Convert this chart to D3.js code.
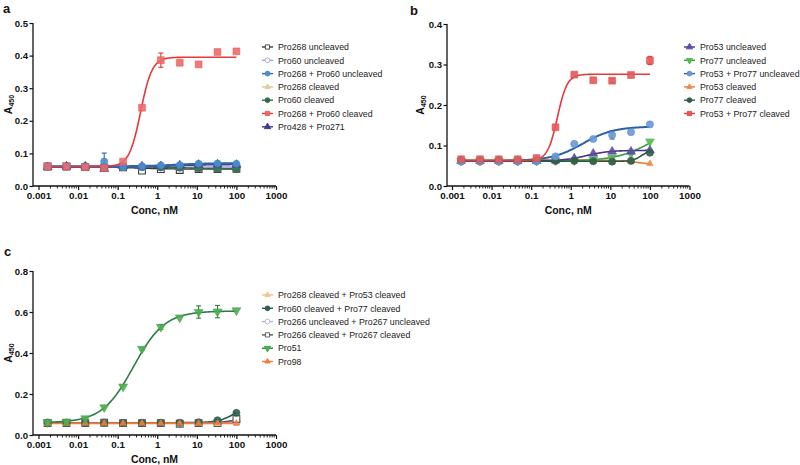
<!DOCTYPE html>
<html><head><meta charset="utf-8">
<script src="https://cdn.jsdelivr.net/npm/d3@7"></script>
<style>body{margin:0;background:#fff}svg{font-family:"Liberation Sans",Arial,sans-serif}</style>
</head><body><svg id="chart" width="800" height="465"></svg>
<script>
// ---------- DATA ----------
const concs = [0.0017, 0.0051, 0.0152, 0.0457, 0.137, 0.412, 1.23, 3.70, 11.1, 33.3, 100];
const xTickValues = [0.001, 0.01, 0.1, 1, 10, 100, 1000];
const xTickLabels = ["0.001", "0.01", "0.1", "1", "10", "100", "1000"];
const yTicksA = [0, 0.1, 0.2, 0.3, 0.4, 0.5];
const yTicksB = [0, 0.1, 0.2, 0.3, 0.4];
const yTicksC = [0, 0.2, 0.4, 0.6, 0.8];

// Panel a
const aNames = ["Pro268 uncleaved", "Pro60 uncleaved", "Pro268 + Pro60 uncleaved", "Pro268 cleaved", "Pro60 cleaved", "Pro268 + Pro60 cleaved", "Pro428 + Pro271"];
const a268u   = [0.060,0.060,0.058,0.056,0.057,0.047,0.052,0.049,0.052,0.052,0.053];
const a60u    = [0.060,0.060,0.060,0.058,0.058,0.058,0.058,0.058,0.058,0.058,0.058];
const a268_60u= [0.060,0.060,0.060,0.075,0.058,0.060,0.063,0.064,0.068,0.069,0.068];
const a268c   = [0.061,0.064,0.060,0.058,0.057,0.056,0.056,0.056,0.055,0.054,0.053];
const a60c    = [0.060,0.060,0.060,0.057,0.058,0.058,0.057,0.056,0.054,0.053,0.052];
const a268_60c= [0.060,0.060,0.058,0.055,0.075,0.240,0.386,0.378,0.373,0.411,0.413];
const a428_271= [0.058,0.060,0.060,0.053,0.060,0.060,0.061,0.063,0.065,0.066,0.065];
const aErr268_60u = [0,0,0,0.026,0,0,0,0,0,0,0];
const aErr268_60c = [0,0,0,0,0,0,0.022,0,0,0,0];
// fit params: bottom, top, EC50, hill
const aFits = [[0.059,0.052,0.3,1],[0.059,0.058,1,1],[0.060,0.070,3,1],[0.060,0.053,3,1],[0.059,0.052,5,1],[0.060,0.395,0.38,3],[0.059,0.066,3,1]];

// Panel b
const bNames = ["Pro53 uncleaved", "Pro77 uncleaved", "Pro53 + Pro77 uncleaved", "Pro53 cleaved", "Pro77 cleaved", "Pro53 + Pro77 cleaved"];
const b53u    = [0.062,0.062,0.062,0.062,0.062,0.063,0.068,0.080,0.085,0.085,0.088];
const b77u    = [0.062,0.062,0.062,0.062,0.062,0.063,0.063,0.065,0.070,0.080,0.110];
const b53_77u = [0.060,0.060,0.060,0.060,0.061,0.073,0.104,0.116,0.126,0.133,0.152];
const b53c    = [0.065,0.065,0.065,0.065,0.063,0.062,0.062,0.061,0.060,0.060,0.055];
const b77c    = [0.062,0.062,0.062,0.062,0.062,0.062,0.062,0.061,0.060,0.062,0.082];
const b53_77c = [0.066,0.066,0.066,0.066,0.069,0.145,0.275,0.261,0.260,0.274,0.310];
const bErr53_77u = [0,0,0,0,0,0,0,0,0.010,0,0];
const bErr53_77c = [0,0,0,0,0,0,0,0,0.005,0,0.010];
const bFits = [[0.062,0.088,2.5,1.5],[0.062,0.150,100,1],[0.062,0.147,2,1.1],[0.064,0.050,60,1.5],[0.061,0.088,60,4],[0.063,0.276,0.46,3.5]];

// Panel c
const cNames = ["Pro268 cleaved + Pro53 cleaved", "Pro60 cleaved + Pro77 cleaved", "Pro266 uncleaved + Pro267 uncleaved", "Pro266 cleaved + Pro267 cleaved", "Pro51", "Pro98"];
const c268c_53c = [0.060,0.060,0.060,0.060,0.060,0.060,0.060,0.060,0.060,0.060,0.060];
const c60c_77c  = [0.060,0.060,0.060,0.060,0.060,0.060,0.060,0.060,0.062,0.072,0.108];
const c266u_267u= [0.060,0.060,0.058,0.060,0.058,0.058,0.058,0.058,0.058,0.062,0.065];
const c266c_267c= [0.058,0.058,0.058,0.060,0.058,0.058,0.058,0.055,0.058,0.058,0.078];
const c51       = [0.062,0.065,0.081,0.135,0.236,0.420,0.527,0.573,0.600,0.602,0.608];
const c98       = [0.057,0.057,0.057,0.057,0.057,0.057,0.057,0.057,0.057,0.057,0.057];
const cErr51 = [0,0,0,0,0,0.006,0.012,0,0.030,0.030,0];
const cFits = [[0.060,0.060,1,1],[0.060,0.160,100,2],[0.059,0.065,60,2],[0.058,0.090,100,2],[0.060,0.605,0.25,1.1],[0.057,0.057,1,1]];

// ---------- DRAW ----------
const svg = d3.select("#chart");
const fit = (p, x) => p[0] + (p[1]-p[0]) / (1 + Math.pow(p[2]/x, p[3]));
const symType = m => m==="square" ? d3.symbolSquare : m==="circle" ? d3.symbolCircle : d3.symbolTriangle;
const symSize = {square:46, circle:40, tri:34, small:18};

function panel(cfg) {
  const g = svg.append("g");
  const x = d3.scaleLog().domain([0.001, 1000]).range(cfg.xr);
  const y = d3.scaleLinear().domain(cfg.yd).range(cfg.yr);
  g.append("line").attr("x1", cfg.ax).attr("x2", cfg.ax).attr("y1", y(cfg.yd[0])).attr("y2", y(cfg.yd[1])).attr("stroke","#111").attr("stroke-width",1.3);
  g.append("line").attr("x1", cfg.ax).attr("x2", x(1000)).attr("y1", y(0)).attr("y2", y(0)).attr("stroke","#111").attr("stroke-width",1.3);
  const ya = d3.axisLeft(y).tickValues(cfg.yt).tickFormat(d3.format(".1f")).tickSize(3.5).tickPadding(1.5);
  const yg = g.append("g").attr("transform", `translate(${cfg.ax},0)`).call(ya);
  yg.select(".domain").remove();
  yg.selectAll("text").attr("font-size", 9.6).attr("font-weight","bold").attr("fill","#111").attr("font-family","Liberation Sans, Arial");
  yg.selectAll("line").attr("stroke","#111").attr("stroke-width",1.2);
  const xa = d3.axisBottom(x).tickValues(xTickValues).tickFormat((d,i)=>xTickLabels[i]).tickSize(4).tickPadding(2);
  const xg = g.append("g").attr("transform", `translate(0,${y(0)})`).call(xa);
  xg.select(".domain").remove();
  xg.selectAll("text").attr("font-size", 9.8).attr("font-weight","bold").attr("fill","#111").attr("font-family","Liberation Sans, Arial");
  xg.selectAll("line").attr("stroke","#111").attr("stroke-width",1.2);
  const minor = [];
  xTickValues.slice(0,-1).forEach(v => { for (let k=2;k<=9;k++) minor.push(v*k); });
  g.selectAll(".mt").data(minor).join("line").attr("x1", d=>x(d)).attr("x2", d=>x(d))
    .attr("y1", y(0)).attr("y2", y(0)+2.5).attr("stroke","#111").attr("stroke-width",0.9);
  g.append("text").attr("x", (cfg.ax + x(1000))/2).attr("y", y(0)+28).attr("text-anchor","middle")
    .attr("font-size",10.5).attr("font-weight","bold").attr("fill","#111").text("Conc, nM");
  const yl = g.append("text").attr("transform", `translate(${cfg.ylx},${(y(cfg.yd[0])+y(cfg.yd[1]))/2}) rotate(-90)`)
    .attr("text-anchor","middle").attr("font-weight","bold").attr("fill","#111");
  yl.append("tspan").attr("font-size",10.5).text("A");
  yl.append("tspan").attr("font-size",7).attr("dy",2.2).text("450");
  g.append("text").attr("x", cfg.lx).attr("y", cfg.ly).attr("font-size",13).attr("font-weight","bold").attr("fill","#111").text(cfg.letter);

  const xs = d3.range(0, 201).map(i => Math.pow(10, Math.log10(concs[0]) + i*(Math.log10(concs[concs.length-1]) - Math.log10(concs[0]))/200));
  const line = d3.line().x(d=>x(d[0])).y(d=>y(d[1]));
  const drawOrder = cfg.series.slice().sort((a,b)=>a.z-b.z);
  drawOrder.forEach(s => {
    g.append("path").attr("d", line(xs.map(v=>[v, fit(s.fit, v)]))).attr("fill","none")
      .attr("stroke", s.line).attr("stroke-width", s.lw || 1.6);
  });
  drawOrder.forEach(s => {
    if (s.err) {
      s.err.forEach((e,i) => {
        if (!e) return;
        const px = x(concs[i]);
        g.append("line").attr("x1",px).attr("x2",px).attr("y1",y(s.vals[i]-e)).attr("y2",y(s.vals[i]+e)).attr("stroke",s.line).attr("stroke-width",1.1);
        [s.vals[i]-e, s.vals[i]+e].forEach(v => g.append("line").attr("x1",px-2.5).attr("x2",px+2.5).attr("y1",y(v)).attr("y2",y(v)).attr("stroke",s.line).attr("stroke-width",1.1));
      });
    }
    g.selectAll(null).data(s.vals).join("path")
      .attr("d", d3.symbol().type(symType(s.m)).size(symSize[s.m])())
      .attr("transform", (d,i) => `translate(${x(concs[i])},${y(d)})${s.inv ? " rotate(180)" : ""}`)
      .attr("fill", s.open ? "#fff" : s.fill).attr("fill-opacity", s.open ? 1 : 0.9)
      .attr("stroke", s.stroke).attr("stroke-width", s.open ? 1.1 : 0.6);
  });
  cfg.series.forEach((s, i) => {
    const ly = cfg.legY + i*13.3;
    const lg = g.append("g");
    lg.append("line").attr("x1", cfg.legX).attr("x2", cfg.legX+11).attr("y1", ly).attr("y2", ly).attr("stroke", s.line).attr("stroke-width",1.4);
    lg.append("path").attr("d", d3.symbol().type(symType(s.m)).size(s.m==="small"?12:18)())
      .attr("transform", `translate(${cfg.legX+5.5},${ly})${s.inv ? " rotate(180)" : ""}`)
      .attr("fill", s.open ? "#fff" : s.fill).attr("stroke", s.stroke).attr("stroke-width",0.9);
    lg.append("text").attr("x", cfg.legX+16).attr("y", ly+3.2).attr("font-size",8.8).attr("fill","#222").text(s.name);
  });
}

panel({
  letter:"a", lx:3, ly:13, ax:33, xr:[38.5,276], yd:[0,0.5], yr:[186,23], yt:yTicksA, ylx:12,
  legX:262, legY:47,
  series:[
    {name:aNames[0], z:0, vals:a268u, fit:aFits[0], m:"square", open:true, stroke:"#3a3a3a", line:"#3a3a3a"},
    {name:aNames[1], z:1, vals:a60u, fit:aFits[1], m:"circle", open:true, stroke:"#a9a4dc", line:"#a9a4dc"},
    {name:aNames[2], z:5, vals:a268_60u, fit:aFits[2], m:"circle", fill:"#4a90d0", stroke:"#3a80c4", line:"#2f63b0", lw:2.2, err:aErr268_60u},
    {name:aNames[3], z:2, vals:a268c, fit:aFits[3], m:"small", fill:"#e8c89c", stroke:"#e8c89c", line:"#e6c08e"},
    {name:aNames[4], z:3, vals:a60c, fit:aFits[4], m:"circle", fill:"#2f6b4f", stroke:"#2f6b4f", line:"#2f6b4f"},
    {name:aNames[5], z:6, vals:a268_60c, fit:aFits[5], m:"square", fill:"#ec6b6b", stroke:"#e85858", line:"#e53935", err:aErr268_60c},
    {name:aNames[6], z:4, vals:a428_271, fit:aFits[6], m:"tri", fill:"#3d3a8a", stroke:"#3d3a8a", line:"#3d3a8a"},
  ]
});

panel({
  letter:"b", lx:410, ly:15, ax:447, xr:[452,689.5], yd:[0,0.4], yr:[186,24], yt:yTicksB, ylx:424,
  legX:684, legY:47,
  series:[
    {name:bNames[0], z:2, vals:b53u, fit:bFits[0], m:"tri", fill:"#5b4aa6", stroke:"#5b4aa6", line:"#4a2f8f"},
    {name:bNames[1], z:1, vals:b77u, fit:bFits[1], m:"tri", inv:true, fill:"#55b84f", stroke:"#55b84f", line:"#3aa04a"},
    {name:bNames[2], z:4, vals:b53_77u, fit:bFits[2], m:"circle", fill:"#6a9ad6", stroke:"#5a8ccc", line:"#2d5fa5", lw:2, err:bErr53_77u},
    {name:bNames[3], z:0, vals:b53c, fit:bFits[3], m:"small", fill:"#ee8a45", stroke:"#ee8a45", line:"#ee7a30"},
    {name:bNames[4], z:3, vals:b77c, fit:bFits[4], m:"circle", fill:"#2f5e48", stroke:"#2f5e48", line:"#2a5a44"},
    {name:bNames[5], z:5, vals:b53_77c, fit:bFits[5], m:"square", fill:"#e35a5a", stroke:"#e04848", line:"#e23b3b", err:bErr53_77c},
  ]
});

panel({
  letter:"c", lx:4, ly:256, ax:33, xr:[38.5,276], yd:[0,0.8], yr:[435,271], yt:yTicksC, ylx:12,
  legX:262, legY:295,
  series:[
    {name:cNames[0], z:1, vals:c268c_53c, fit:cFits[0], m:"small", fill:"#f0c491", stroke:"#f0c491", line:"#f0bf88"},
    {name:cNames[1], z:4, vals:c60c_77c, fit:cFits[1], m:"circle", fill:"#2e5f4c", stroke:"#2e5f4c", line:"#2a5a48"},
    {name:cNames[2], z:2, vals:c266u_267u, fit:cFits[2], m:"circle", open:true, stroke:"#b3aee0", line:"#b3aee0"},
    {name:cNames[3], z:3, vals:c266c_267c, fit:cFits[3], m:"square", open:true, stroke:"#555", line:"#555"},
    {name:cNames[4], z:6, vals:c51, fit:cFits[4], m:"tri", inv:true, fill:"#4caf50", stroke:"#43a047", line:"#2e7d45", err:cErr51},
    {name:cNames[5], z:5, vals:c98, fit:cFits[5], m:"small", fill:"#f47c35", stroke:"#f47c35", line:"#f47c35", lw:2},
  ]
});
</script></body></html>
